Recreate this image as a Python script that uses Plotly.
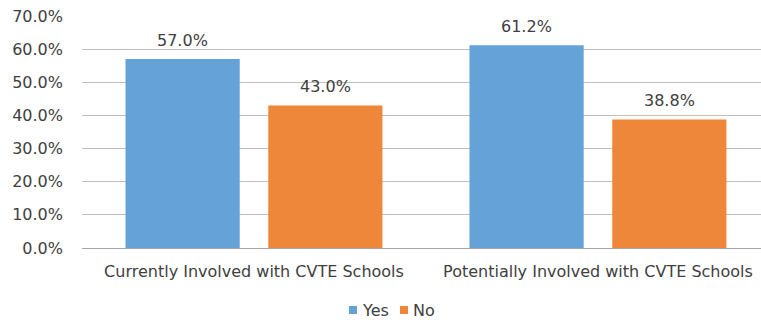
import plotly.graph_objects as go

categories = ["Currently Involved with CVTE Schools", "Potentially Involved with CVTE Schools"]
series_names = ["Yes", "No"]
yes_values = [0.570, 0.612]
no_values = [0.430, 0.388]
y_ticks = [0.0, 0.1, 0.2, 0.3, 0.4, 0.5, 0.6, 0.7]

FONT = "DejaVu Sans"
TEXT = "#404040"
COLORS = ["#65A2D8", "#EE873A"]
SIZE = 16

W, H = 761, 320
ML, MR, MT, MB = 82, 0, 16, 72
X_RANGE = [-0.5, 1.474]
BARGAP, GROUPGAP = 0.17, 0.2

fig = go.Figure()
for name, vals, col in zip(series_names, [yes_values, no_values], COLORS):
    fig.add_trace(go.Bar(
        name=name, x=categories, y=vals,
        marker=dict(color=col, line=dict(width=0)),
        showlegend=False,
    ))

# Value labels above each bar, shifted onto the bar's slot within its group
px_per_cat = (W - ML - MR) / (X_RANGE[1] - X_RANGE[0])
slot = px_per_cat * (1 - BARGAP) / len(series_names)
for i, (vals, name) in enumerate(zip([yes_values, no_values], series_names)):
    offset = (i - (len(series_names) - 1) / 2) * slot
    for cat, v in zip(categories, vals):
        fig.add_annotation(x=cat, y=v, xref="x", yref="y", text=f"{v*100:.1f}%",
                           showarrow=False, xanchor="center", yanchor="bottom",
                           xshift=offset, yshift=7,
                           font=dict(family=FONT, size=SIZE, color=TEXT))

# Legend drawn as small squares with labels beneath the plot
def px_x(p):
    return (p - ML) / (W - ML - MR)

def px_y(p):
    return (H - MB - p) / (H - MT - MB)

legend_left = [349, 400]
for name, col, left in zip(series_names, COLORS, legend_left):
    fig.add_shape(type="rect", xref="paper", yref="paper",
                  x0=px_x(left), x1=px_x(left + 8), y0=px_y(314), y1=px_y(306),
                  fillcolor=col, line=dict(width=0))
    fig.add_annotation(xref="paper", yref="paper", x=px_x(left + 11), y=px_y(310),
                       xanchor="left", yanchor="middle", showarrow=False, text=name,
                       font=dict(family=FONT, size=SIZE, color=TEXT))

fig.update_layout(
    width=W, height=H,
    margin=dict(l=ML, r=MR, t=MT, b=MB),
    paper_bgcolor="white", plot_bgcolor="white",
    barmode="group", bargap=BARGAP, bargroupgap=GROUPGAP,
    font=dict(family=FONT, size=SIZE, color=TEXT),
    showlegend=False,
)
fig.update_xaxes(
    range=X_RANGE, showgrid=False, showline=False, ticks="",
    tickfont=dict(family=FONT, size=SIZE, color=TEXT), ticklabelstandoff=12,
)
fig.update_yaxes(
    range=[0, 0.7], tickvals=y_ticks, tickformat=".1%",
    showgrid=True, gridcolor="#BFBFBF", gridwidth=1,
    zeroline=True, zerolinecolor="#A6A6A6", zerolinewidth=1,
    showline=False, ticks="", ticklabelstandoff=18,
    tickfont=dict(family=FONT, size=SIZE, color=TEXT),
)

fig.write_html("out.html")
